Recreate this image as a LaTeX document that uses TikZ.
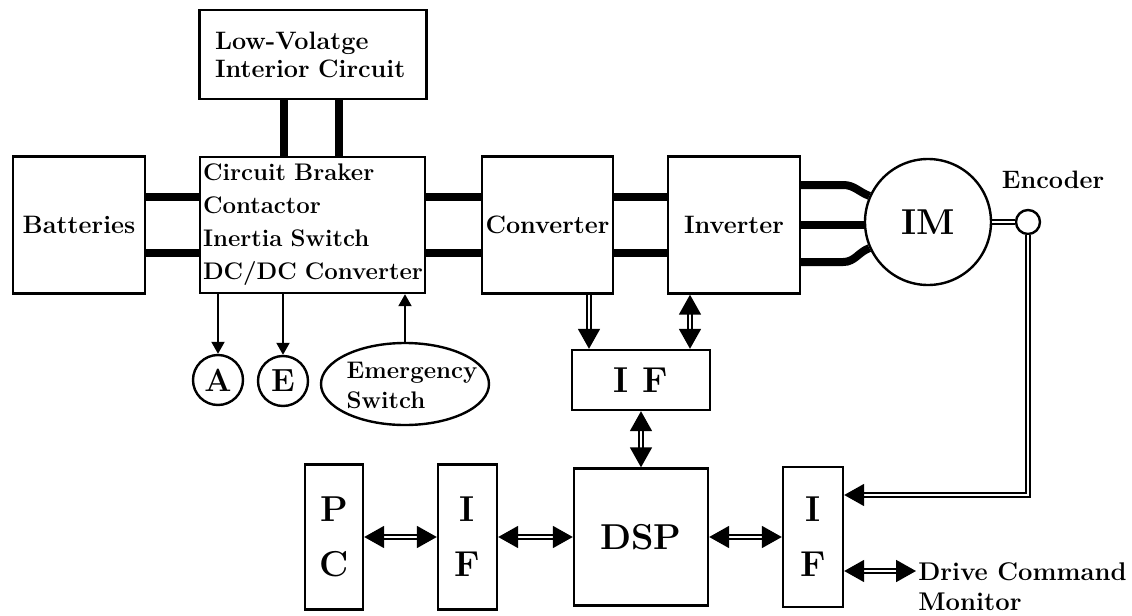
\documentclass[tikz,border=0pt]{standalone}
\usepackage{tikz}
\usetikzlibrary{arrows.meta,positioning,calc,shapes.geometric}

\tikzset{
  blk/.style={draw, line width=1.2pt, rectangle, inner sep=0pt},
  big/.style={font=\fontsize{18}{27.5}\selectfont\bfseries},
  power/.style={line width=4pt},
  sig/.style={line width=0.9pt, double=white, double distance=1.4pt},
  bi/.style={sig, {Triangle[length=10pt,width=11pt]}-{Triangle[length=10pt,width=11pt]}},
  uni/.style={sig, -{Triangle[length=10pt,width=11pt]}},
  thinarr/.style={line width=1pt, -{Triangle[length=6pt,width=6.5pt]}},
}

\begin{document}
\begin{tikzpicture}[x=0.5pt, y=-0.5pt, every node/.style={font=\fontsize{12.6}{16.5}\selectfont\bfseries}]
  \useasboundingbox (0,0) rectangle (1132,616);

  \node[blk, minimum width=66pt, minimum height=68.5pt] (bat) at (79,225) {Batteries};
  \node[blk, minimum width=113.5pt, minimum height=44.5pt, text width=98pt, align=left,
        font=\fontsize{12.6}{14}\selectfont\bfseries] (lv) at (313,54.5) {Low-Volatge\\Interior Circuit};
  \node[blk, minimum width=112.5pt, minimum height=68pt, text width=109.5pt, align=left,
        font=\fontsize{12}{16.5}\selectfont\bfseries] (cb) at (312.5,225)
       {Circuit Braker\\Contactor\\Inertia Switch\\\mbox{DC/DC Converter}};
  \node[blk, minimum width=65.5pt, minimum height=68.5pt] (conv) at (547.5,225) {Converter};
  \node[blk, minimum width=66pt, minimum height=68.5pt] (inv) at (734,225) {Inverter};
  \node[draw, circle, line width=1.2pt, minimum size=63pt, inner sep=0pt, big] (im) at (928,222) {IM};
  \node[draw, circle, line width=1.2pt, minimum size=12pt, inner sep=0pt] (enc) at (1028,222) {};
  \node (enctxt) at (1053,180) {Encoder};

  \node[blk, minimum width=69pt, minimum height=30pt, big] (ifa) at (641,380) {I F};
  \node[blk, minimum width=67pt, minimum height=68.5pt, big] (dsp) at (641,537) {DSP};
  \node[blk, minimum width=29pt, minimum height=72.5pt, big, align=center] (pc) at (334,537) {P\\C};
  \node[blk, minimum width=29.5pt, minimum height=72.5pt, big, align=center] (ifl) at (467.5,537) {I\\F};
  \node[blk, minimum width=30pt, minimum height=70pt, big, align=center] (ifr) at (813,537) {I\\F};
  \node[anchor=west, align=left, inner sep=1pt, font=\fontsize{12.8}{15}\selectfont\bfseries] (drv) at (916,587)
       {Drive Command\\Monitor};

  \node[draw, circle, line width=1.2pt, minimum size=25pt, inner sep=0pt, font=\fontsize{16}{16}\selectfont\bfseries] (a) at (218,380) {A};
  \node[draw, circle, line width=1.2pt, minimum size=25pt, inner sep=0pt, font=\fontsize{16}{16}\selectfont\bfseries] (e) at (283,381) {E};
  \node[draw, ellipse, line width=1.2pt, minimum width=84pt, minimum height=41pt] (es) at (405,384) {};
  \node[align=left, inner sep=0pt, font=\fontsize{12}{15}\selectfont\bfseries] (estxt) at (412,385) {Emergency\\Switch};

  \draw[power] ([yshift=14pt]bat.east) -- ([yshift=14pt]bat.east -| cb.west);
  \draw[power] ([yshift=-14pt]bat.east) -- ([yshift=-14pt]bat.east -| cb.west);
  \draw[power] ([xshift=-14.5pt]cb.north) -- ([xshift=-14.5pt]cb.north |- lv.south);
  \draw[power] ([xshift=13pt]cb.north) -- ([xshift=13pt]cb.north |- lv.south);
  \draw[power] ([yshift=14pt]cb.east) -- ([yshift=14pt]cb.east -| conv.west);
  \draw[power] ([yshift=-14pt]cb.east) -- ([yshift=-14pt]cb.east -| conv.west);
  \draw[power] ([yshift=14pt]conv.east) -- ([yshift=14pt]conv.east -| inv.west);
  \draw[power] ([yshift=-14pt]conv.east) -- ([yshift=-14pt]conv.east -| inv.west);
  \draw[power] ([yshift=20pt]inv.east) -- ++(21pt,0) to[out=0,in=160] (im.156);
  \draw[power] (inv.east) -- (inv.east -| im.west);
  \draw[power] ([yshift=-18.5pt]inv.east) -- ++(21pt,0) to[out=0,in=200] (im.204);
  \draw[sig] (im.east) -- (enc.west);

  \draw[thinarr] (a.north |- cb.south) -- (a.north);
  \draw[thinarr] (e.north |- cb.south) -- (e.north);
  \draw[thinarr] (es.north) -- (es.north |- cb.south);

  \draw[uni] ([xshift=20.75pt]conv.south) -- ([xshift=20.75pt]conv.south |- ifa.north);
  \draw[bi] ([xshift=-22pt]inv.south) -- ([xshift=-22pt]inv.south |- ifa.north);
  \draw[bi] (ifa.south) -- (dsp.north);
  \draw[bi] (pc.east) -- (ifl.west);
  \draw[bi] (ifl.east) -- (dsp.west);
  \draw[bi] (dsp.east) -- (ifr.west);
  \draw[uni] (enc.south) |- ([yshift=21pt]ifr.east);
  \draw[bi] ([yshift=-17pt]ifr.east) -- ([yshift=-17pt]ifr.east -| drv.west);
\end{tikzpicture}
\end{document}
